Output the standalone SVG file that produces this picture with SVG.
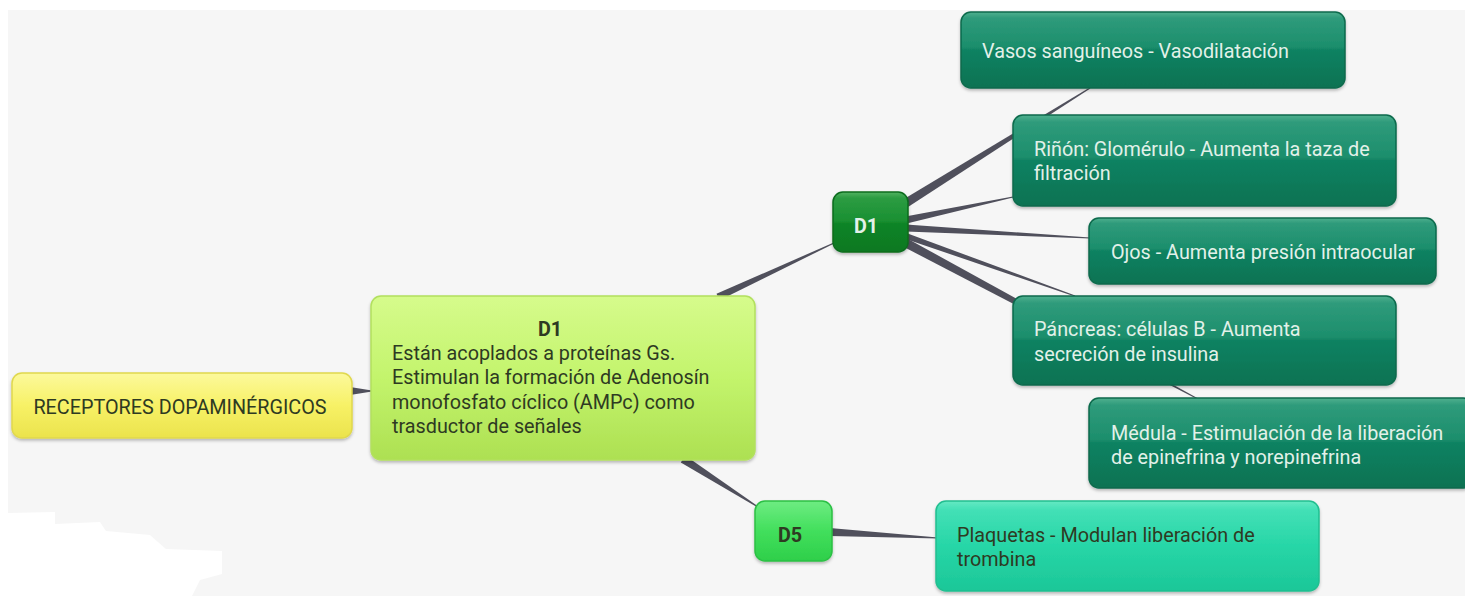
<svg xmlns="http://www.w3.org/2000/svg" width="1465" height="596" viewBox="0 0 1465 596">
  <defs>
    <linearGradient id="gTeal" x1="0" y1="0" x2="0" y2="1">
      <stop offset="0" stop-color="#4fb08f"/>
      <stop offset="0.08" stop-color="#2f9b7b"/>
      <stop offset="0.46" stop-color="#1c8e6c"/>
      <stop offset="0.5" stop-color="#0f8262"/>
      <stop offset="1" stop-color="#097252"/>
    </linearGradient>
    <linearGradient id="gLime" x1="0" y1="0" x2="0" y2="1">
      <stop offset="0" stop-color="#d6fb8c"/>
      <stop offset="0.5" stop-color="#c3f46c"/>
      <stop offset="1" stop-color="#ade052"/>
    </linearGradient>
    <linearGradient id="gYellow" x1="0" y1="0" x2="0" y2="1">
      <stop offset="0" stop-color="#fcf99c"/>
      <stop offset="0.5" stop-color="#f7f166"/>
      <stop offset="1" stop-color="#ebe34c"/>
    </linearGradient>
    <linearGradient id="gDark" x1="0" y1="0" x2="0" y2="1">
      <stop offset="0" stop-color="#52b262"/>
      <stop offset="0.1" stop-color="#2c9c42"/>
      <stop offset="0.48" stop-color="#1a9032"/>
      <stop offset="0.53" stop-color="#0d8427"/>
      <stop offset="1" stop-color="#0a7822"/>
    </linearGradient>
    <linearGradient id="gBright" x1="0" y1="0" x2="0" y2="1">
      <stop offset="0" stop-color="#6eec82"/>
      <stop offset="0.5" stop-color="#42df5c"/>
      <stop offset="1" stop-color="#2ecf4a"/>
    </linearGradient>
    <linearGradient id="gAqua" x1="0" y1="0" x2="0" y2="1">
      <stop offset="0" stop-color="#64e9c3"/>
      <stop offset="0.1" stop-color="#43e0b6"/>
      <stop offset="0.5" stop-color="#27d6a7"/>
      <stop offset="1" stop-color="#1cc798"/>
    </linearGradient>
    <filter id="shadow" x="-10%" y="-10%" width="120%" height="130%">
      <feDropShadow dx="0" dy="2" stdDeviation="1.5" flood-color="#000" flood-opacity="0.25"/>
    </filter>
  </defs>
  <style>
    .box { filter: url(#shadow); stroke-width: 1.5; }
    .teal { fill: url(#gTeal); stroke: #0a6a4c; }
    .lime { fill: url(#gLime); stroke: #b2e05e; }
    .yellow { fill: url(#gYellow); stroke: #e0d84e; }
    .dark { fill: url(#gDark); stroke: #0a6c1e; }
    .bright { fill: url(#gBright); stroke: #2cc044; }
    .aqua { fill: url(#gAqua); stroke: #20bf90; }
    text { font-family: Roboto, "Liberation Sans", sans-serif; font-size: 19.8px; }
    .light { fill: #e2f1e9; }
    .ink { fill: #2e3a22; }
    .bold { font-weight: bold; }
    .wedge { fill: #50505c; }
  </style>

  <!-- canvas -->
  <rect x="0" y="0" width="1465" height="596" fill="#ffffff"/>
  <rect x="8" y="10" width="1457" height="586" fill="#f6f6f6"/>
  <polygon points="8,513 55,512 55,524 100,522 106,531 150,535 166,549 222,551 222,574 200,580 192,596 8,596" fill="#ffffff"/>

  <!-- tapered connectors -->
  <g id="connectors">
    <polygon class="wedge" points="350,387 372,390.5 372,391.5 350,395"/>
    <polygon class="wedge" points="719.5,300.2 834.2,243.5 833.8,242.5 716.5,293.8"/>
    <polygon class="wedge" points="680.8,462.4 757.7,507.4 758.3,506.6 685.2,455.6"/>
    <polygon class="wedge" points="829.8,528 938,537.5 938,538.5 830.2,536"/>
    <polygon class="wedge" points="908.4,206.8 1090.3,88.4 1089.7,87.6 903.6,199.2"/>
    <polygon class="wedge" points="906.7,223.4 1013.1,197.5 1012.9,196.5 905.3,216.6"/>
    <polygon class="wedge" points="905.8,231.5 1090,238.5 1090,237.5 906.2,224.5"/>
    <polygon class="wedge" points="905,238.8 1074.8,296.5 1075.2,295.5 907,233.2"/>
    <polygon class="wedge" points="903.9,247 1197.8,399.4 1198.2,398.6 908.1,239"/>
  </g>

  <g id="receptores">
    <rect class="box yellow" x="12" y="373" width="340" height="65" rx="10"/>
    <text class="ink" x="180" y="414" text-anchor="middle">RECEPTORES DOPAMINÉRGICOS</text>
  </g>

  <g id="d1-info">
    <rect class="box lime" x="371" y="296" width="384" height="164" rx="10"/>
    <text class="ink bold" x="550" y="336" text-anchor="middle">D1</text>
    <text class="ink" x="392" y="360">Están acoplados a proteínas Gs.</text>
    <text class="ink" x="392" y="384">Estimulan la formación de Adenosín</text>
    <text class="ink" x="392" y="409">monofosfato cíclico (AMPc) como</text>
    <text class="ink" x="392" y="433">trasductor de señales</text>
  </g>

  <g id="d1">
    <rect class="box dark" x="833" y="192" width="75" height="60" rx="10"/>
    <text class="light bold" x="866" y="233" text-anchor="middle">D1</text>
  </g>

  <g id="d5">
    <rect class="box bright" x="755" y="501" width="77" height="60" rx="10"/>
    <text class="ink bold" x="790" y="542" text-anchor="middle" fill="#1a3a18">D5</text>
  </g>

  <g id="vasos">
    <rect class="box teal" x="961" y="12" width="384" height="76" rx="10"/>
    <text class="light" x="982" y="58">Vasos sanguíneos - Vasodilatación</text>
  </g>

  <g id="rinon">
    <rect class="box teal" x="1013" y="115" width="383" height="91" rx="10"/>
    <text class="light" x="1034" y="156">Riñón: Glomérulo - Aumenta la taza de</text>
    <text class="light" x="1034" y="180">filtración</text>
  </g>

  <g id="ojos">
    <rect class="box teal" x="1089" y="218" width="347" height="66" rx="10"/>
    <text class="light" x="1111" y="259">Ojos - Aumenta presión intraocular</text>
  </g>

  <g id="pancreas">
    <rect class="box teal" x="1013" y="296" width="383" height="89" rx="10"/>
    <text class="light" x="1034" y="336">Páncreas: células B - Aumenta</text>
    <text class="light" x="1034" y="361">secreción de insulina</text>
  </g>

  <g id="medula">
    <rect class="box teal" x="1089" y="398" width="384" height="90" rx="10"/>
    <text class="light" x="1111" y="440">Médula - Estimulación de la liberación</text>
    <text class="light" x="1111" y="464">de epinefrina y norepinefrina</text>
  </g>

  <g id="plaquetas">
    <rect class="box aqua" x="936" y="501" width="383" height="90" rx="10"/>
    <text class="ink" x="957" y="542" fill="#1c4a3a">Plaquetas - Modulan liberación de</text>
    <text class="ink" x="957" y="566" fill="#1c4a3a">trombina</text>
  </g>
</svg>
